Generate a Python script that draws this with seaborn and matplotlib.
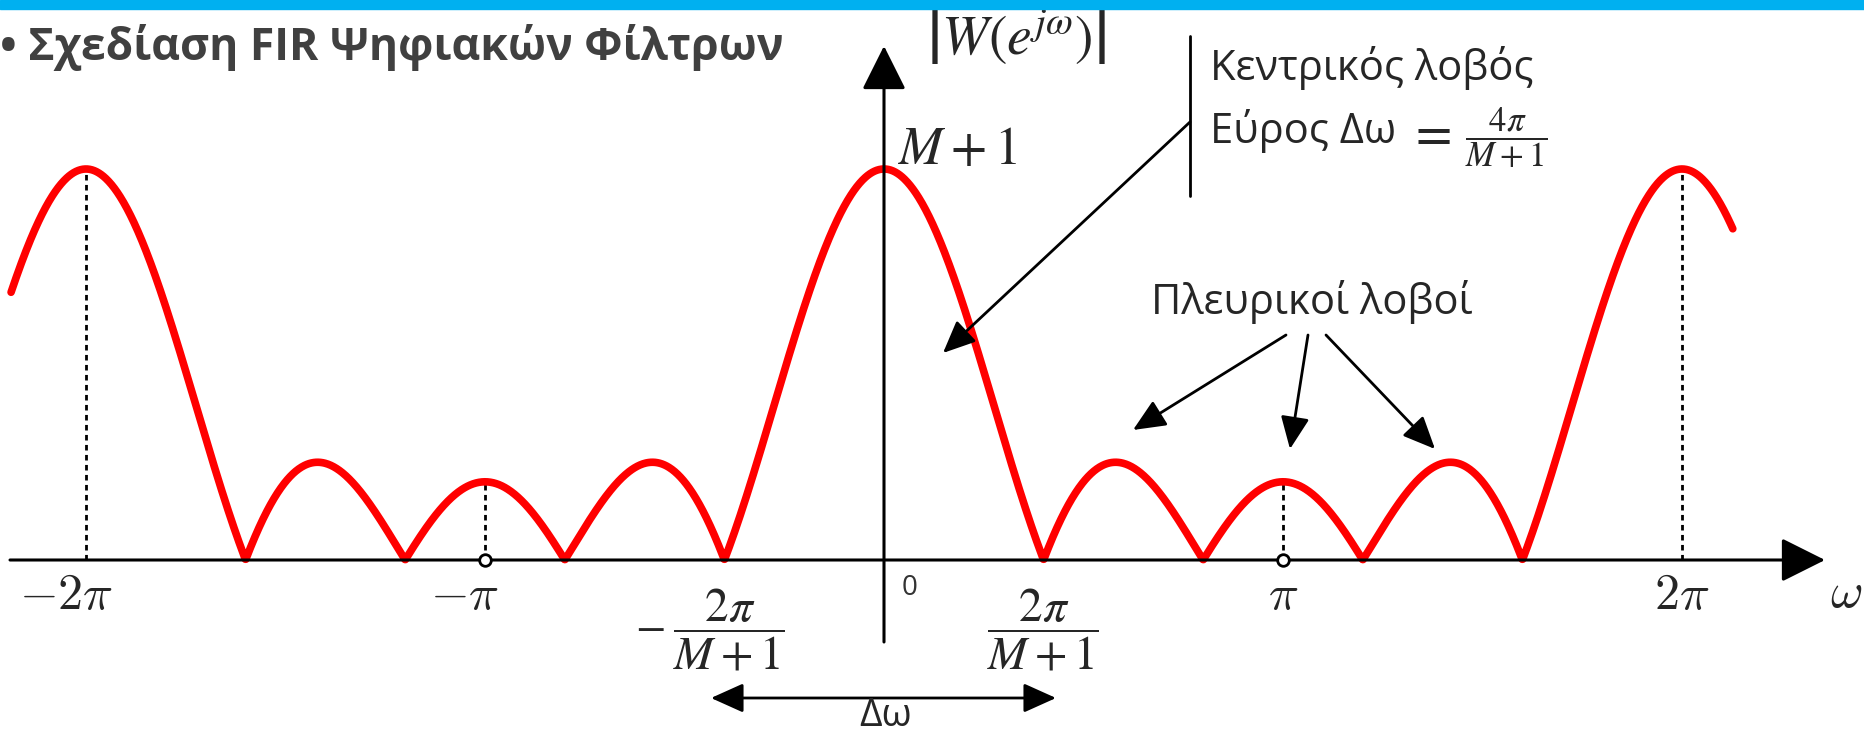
import numpy as np
import pandas as pd
import seaborn as sns
import matplotlib.pyplot as plt
from matplotlib.patches import Rectangle

# Window parameters (M + 1 = 5 taps -> zeros at multiples of 2*pi/5)
M = 4
omega_start = -2 * np.pi - 0.59
omega_end = 2 * np.pi + 0.40
dashed_at = [-2 * np.pi, -np.pi, np.pi, 2 * np.pi]
circles_at = [-np.pi, np.pi]
tick_pos = [-2 * np.pi, -np.pi, np.pi, 2 * np.pi]
tick_labels = [r'$-2\pi$', r'$-\pi$', r'$\pi$', r'$2\pi$']

sns.set_theme(style='white')
plt.rcParams['font.family'] = ['Open Sans', 'DejaVu Sans']

# Dirichlet magnitude |W(e^jw)|
omega = np.linspace(omega_start, omega_end, 3000)
num = np.sin((M + 1) * omega / 2)
den = np.sin(omega / 2)
safe = np.abs(den) > 1e-9
mag = np.where(safe, np.abs(num / np.where(safe, den, 1)), M + 1)
df = pd.DataFrame({'omega': omega, 'mag': mag})


def dirichlet(w):
    d = np.sin(w / 2)
    return M + 1 if abs(d) < 1e-9 else abs(np.sin((M + 1) * w / 2) / d)


# pixel -> data helper (figure is 1864x738)
X0, PI_PX, Y0, UNIT_PX = 884, 399, 560, 78.2


def px(x, y):
    return ((x - X0) / PI_PX * np.pi, (Y0 - y) / UNIT_PX)


fig = plt.figure(figsize=(18.64, 7.38), dpi=100)
ax = fig.add_axes([0, 0, 1, 1])
ax.set_xlim(px(0, 0)[0], px(1864, 0)[0])
ax.set_ylim(px(0, 738)[1], px(0, 0)[1])
ax.axis('off')

# blue band at top
fig.add_artist(Rectangle((0, 1 - 9 / 738), 1, 9 / 738, transform=fig.transFigure,
                         color='#00B0F0', zorder=10))

# dashed guides
for w in dashed_at:
    ax.plot([w, w], [0, dirichlet(w)], color='black', lw=2, ls=(0, (2, 1.6)), zorder=2)

# curve
sns.lineplot(data=df, x='omega', y='mag', color='red', lw=5.5, ax=ax, zorder=3)

# axes with arrows
arrow_kw = dict(arrowstyle='-|>,head_length=1.1,head_width=0.55', lw=2.2, color='black',
                shrinkA=0, shrinkB=0, mutation_scale=25)
ax.annotate('', xy=px(1825, 560), xytext=px(10, 560), arrowprops=arrow_kw, zorder=4)
ax.annotate('', xy=px(884, 46), xytext=px(884, 642), arrowprops=arrow_kw, zorder=4)

# open circles at +-pi
ax.scatter(circles_at, [0] * len(circles_at), s=70, facecolor='white', edgecolor='black',
           linewidth=2, zorder=5)

# tick labels (negative ones shifted so the pi part sits under the tick)
shift = 20 / PI_PX * np.pi
for pos, lab in zip(tick_pos, tick_labels):
    xpos = pos - shift if pos < 0 else pos
    ax.text(xpos, px(0, 596)[1], lab, ha='center', va='center', fontsize=36,
            math_fontfamily='cm')
ax.text(*px(1846, 594), r'$\omega$', ha='center', va='center', fontsize=36, math_fontfamily='cm')
ax.text(*px(910, 588), '0', ha='center', va='center', fontsize=20, color='#333333')

ax.text(*px(1043, 630), r'$\dfrac{2\pi}{M+1}$', ha='center', va='center', fontsize=34,
        math_fontfamily='stix')
ax.text(*px(729, 630), r'$\dfrac{2\pi}{M+1}$', ha='center', va='center', fontsize=34,
        math_fontfamily='stix')
ax.text(*px(650, 628), r'$-$', ha='center', va='center', fontsize=32, math_fontfamily='stix')

# delta-omega arrow
ax.annotate('', xy=px(1056, 698), xytext=px(711, 698),
            arrowprops=dict(arrowstyle='<|-|>,head_length=1.0,head_width=0.45', lw=2,
                            color='black', shrinkA=0, shrinkB=0, mutation_scale=20))
ax.text(*px(886, 716), 'Δω', ha='center', va='center', fontsize=28)

# y labels
ax.text(*px(1016, 38), r'$\left|W\left(e^{j\omega}\right)\right|$', ha='center', va='center',
        fontsize=40, math_fontfamily='stix')
ax.text(*px(898, 150), r'$M + 1$', ha='left', va='center', fontsize=38,
        math_fontfamily='stix')

# title
ax.text(*px(0, 48), '• Σχεδίαση FIR Ψηφιακών Φίλτρων', ha='left', va='center', fontsize=32,
        fontweight='bold', color='#404040')

# main lobe note
ax.plot(*zip(px(1190, 36), px(1190, 196)), color='black', lw=2)
ax.text(*px(1210, 68), 'Κεντρικός λοβός', ha='left', va='center', fontsize=30)
ax.text(*px(1210, 131), 'Εύρος Δω', ha='left', va='center', fontsize=30)
ax.text(*px(1430, 135), r'$=$', ha='center', va='center', fontsize=38, math_fontfamily='stix')
ax.text(*px(1506, 138), r'$\dfrac{4\pi}{M+1}$', ha='center', va='center', fontsize=25,
        math_fontfamily='stix')
ax.annotate('', xy=px(943, 353), xytext=px(1190, 122),
            arrowprops=dict(arrowstyle='-|>,head_length=0.9,head_width=0.4', lw=2,
                            color='black', shrinkA=0, shrinkB=0, mutation_scale=22))

# side lobe note
ax.text(*px(1312, 302), 'Πλευρικοί λοβοί', ha='center', va='center', fontsize=30)
for start, end in [((1286, 335), (1133, 430)), ((1308, 335), (1290, 449)),
                   ((1326, 335), (1435, 449))]:
    ax.annotate('', xy=px(*end), xytext=px(*start),
                arrowprops=dict(arrowstyle='-|>,head_length=0.9,head_width=0.4', lw=2,
                                color='black', shrinkA=0, shrinkB=0, mutation_scale=22))

fig.savefig('out.png', dpi=100)
